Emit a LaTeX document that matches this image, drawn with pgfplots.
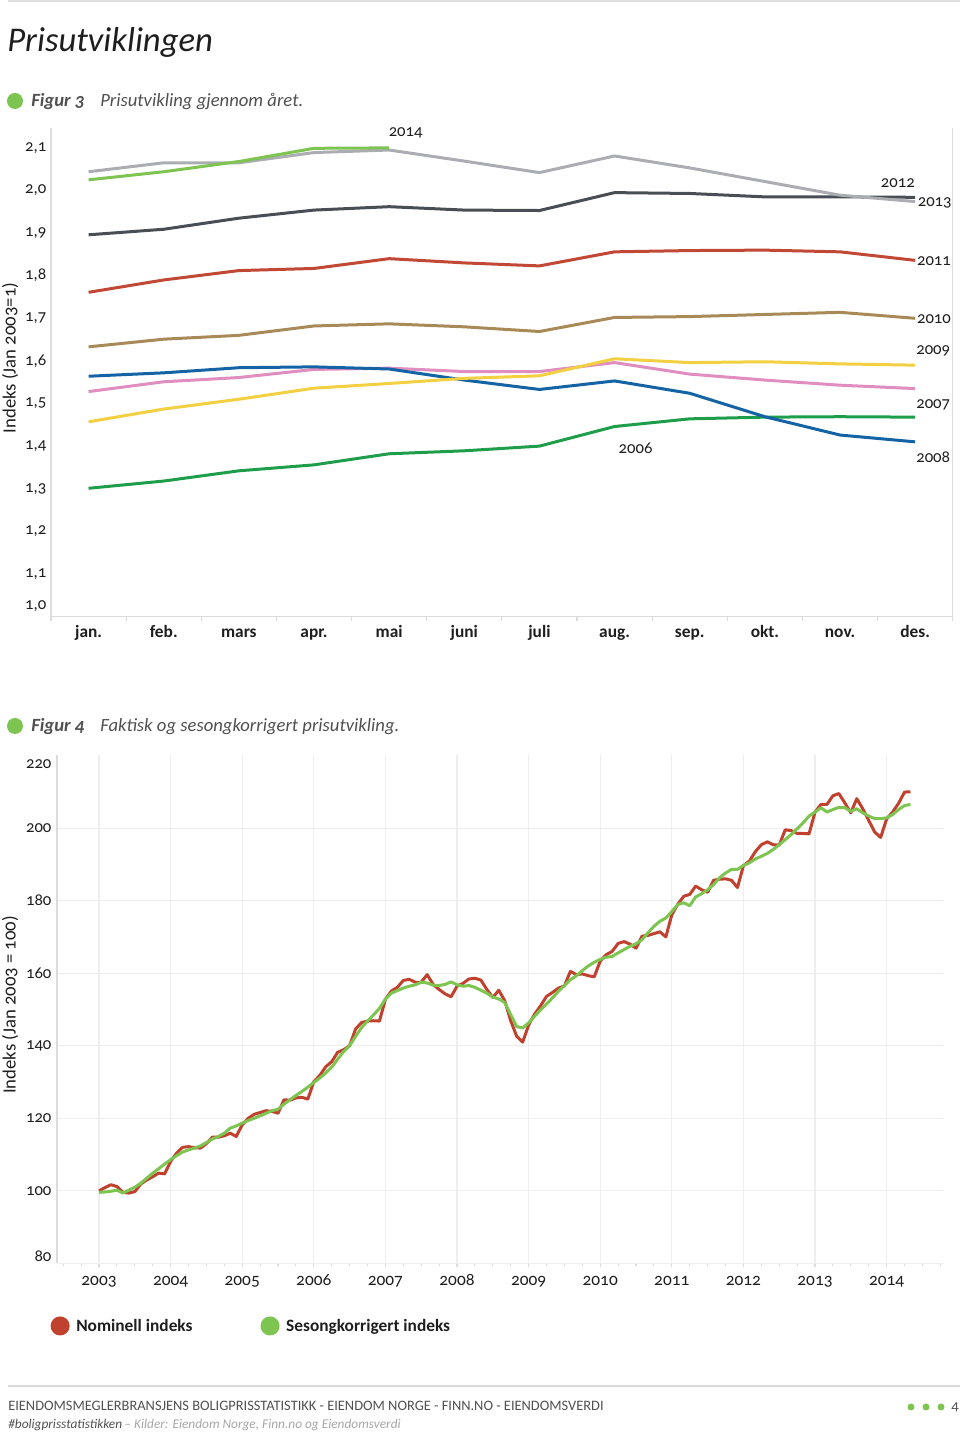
\documentclass[border=0pt]{standalone}
\usepackage{fontspec}
\setmainfont{Carlito}[Numbers=OldStyle]
\usepackage{pgfplots}
\pgfplotsset{compat=1.18}
\usepackage{pgfplotstable}

\definecolor{c06}{RGB}{30,158,74}
\definecolor{c07}{RGB}{224,142,192}
\definecolor{c08}{RGB}{20,100,165}
\definecolor{c09}{RGB}{242,208,66}
\definecolor{c10}{RGB}{168,138,88}
\definecolor{c11}{RGB}{192,72,52}
\definecolor{c12}{RGB}{72,78,84}
\definecolor{c13}{RGB}{170,173,177}
\definecolor{c14}{RGB}{125,196,80}
\definecolor{nom}{RGB}{192,66,46}
\definecolor{sa}{RGB}{125,196,80}
\definecolor{txt}{RGB}{30,30,30}
\definecolor{sub}{RGB}{80,80,80}
\definecolor{axisgray}{RGB}{220,220,220}
\definecolor{gridgray}{RGB}{238,238,238}

\pgfplotstableread{
m nom sa
0 100.0 99.6
1 100.9 99.7
2 101.7 99.9
3 101.2 100.2
4 99.6 99.4
5 99.4 100.2
6 99.8 101.0
7 101.9 102.1
8 103.0 103.5
9 103.9 104.9
10 104.9 106.1
11 104.7 107.4
12 108.1 108.6
13 110.4 109.7
14 112.0 110.7
15 112.2 111.3
16 111.9 111.8
17 111.8 112.4
18 113.0 113.3
19 114.8 114.3
20 114.8 115.0
21 115.2 115.9
22 115.9 117.3
23 115.0 117.9
24 118.2 118.7
25 120.0 119.4
26 121.1 120.0
27 121.6 120.7
28 122.1 121.4
29 121.9 122.1
30 121.4 122.5
31 125.1 123.9
32 125.0 125.1
33 125.6 126.3
34 125.8 127.4
35 125.3 128.6
36 130.1 129.9
37 131.8 131.1
38 134.2 132.5
39 135.6 134.1
40 138.2 136.3
41 138.9 138.4
42 140.0 140.0
43 144.6 142.6
44 146.4 145.0
45 146.8 146.8
46 146.9 148.5
47 146.8 150.3
48 152.8 152.9
49 155.1 154.5
50 156.1 155.2
51 158.0 155.9
52 158.3 156.4
53 157.5 156.8
54 157.5 157.5
55 159.6 157.3
56 156.9 156.7
57 155.5 156.6
58 154.3 156.9
59 153.5 157.6
60 156.4 156.8
61 157.2 156.4
62 158.4 156.6
63 158.6 156.1
64 158.1 155.3
65 155.5 154.5
66 153.3 153.4
67 155.3 152.9
68 152.4 151.9
69 146.9 148.6
70 142.6 145.3
71 141.0 144.9
72 145.7 146.3
73 148.7 148.1
74 151.0 149.9
75 153.6 151.5
76 154.7 153.2
77 155.9 155.0
78 156.5 156.6
79 160.5 158.2
80 159.6 159.3
81 159.8 160.7
82 159.3 162.0
83 159.0 163.0
84 163.3 163.8
85 165.1 164.4
86 166.0 164.6
87 168.2 165.6
88 168.7 166.5
89 168.0 167.4
90 166.9 168.1
91 170.2 169.2
92 170.4 171.1
93 170.9 172.9
94 171.4 174.3
95 170.0 175.2
96 176.1 177.0
97 179.0 178.9
98 181.2 179.4
99 181.7 178.6
100 184.0 181.0
101 183.0 181.9
102 182.3 183.0
103 185.6 184.4
104 185.9 186.3
105 186.0 187.6
106 185.6 188.6
107 183.6 188.6
108 189.6 189.7
109 190.9 190.4
110 193.5 191.5
111 195.4 192.2
112 196.2 193.0
113 195.4 194.1
114 195.3 195.4
115 199.5 196.8
116 199.3 198.2
117 198.5 199.8
118 198.5 201.4
119 198.4 203.3
120 204.4 204.4
121 206.5 205.6
122 206.5 204.4
123 208.9 205.1
124 209.5 205.7
125 206.9 205.6
126 204.2 204.6
127 208.1 205.3
128 205.3 204.2
129 202.1 203.3
130 198.9 202.6
131 197.4 202.6
132 202.5 202.8
133 204.4 203.7
134 206.8 205.1
135 209.9 206.2
136 210.0 206.5
}\bottomdata

\begin{document}
\begin{tikzpicture}
\path[use as bounding box] (0pt,0pt) rectangle (720pt,1077pt);

\begin{scope}[x=0.75pt,y=-0.75pt,yshift=1077pt]
  \draw[gray!25,line width=1.5pt] (8,1.5) -- (960,1.5);
  \node[anchor=base west,inner sep=0pt,font=\itshape\fontsize{26}{30}\selectfont,text=txt] at (7,52) {Prisutviklingen};
  \fill[c14] (15,101) circle (8);
  \node[anchor=base west,inner sep=0pt,font=\bfseries\itshape\fontsize{14}{16}\selectfont,text=sub] at (31,107) {Figur 3};
  \node[anchor=base west,inner sep=0pt,font=\itshape\fontsize{14}{16}\selectfont,text=sub] at (100,107) {Prisutvikling gjennom året.};
  \node[rotate=90,font=\fontsize{14}{16}\selectfont,text=txt] at (10,358) {Indeks (Jan 2003=1)};
  \fill[c14] (15,726) circle (8);
  \node[anchor=base west,inner sep=0pt,font=\bfseries\itshape\fontsize{14}{16}\selectfont,text=sub] at (31,732) {Figur 4};
  \node[anchor=base west,inner sep=0pt,font=\itshape\fontsize{14}{16}\selectfont,text=sub] at (100,732) {Faktisk og sesongkorrigert prisutvikling.};
  \node[rotate=90,font=\fontsize{14}{16}\selectfont,text=txt] at (10,1005) {Indeks (Jan 2003 = 100)};
  \draw[gray!30,line width=1.5pt] (8,1386) -- (960,1386);
  \node[anchor=west,inner sep=0pt,font=\fontsize{10.8}{12}\selectfont,text=sub] at (8,1406) {EIENDOMSMEGLERBRANSJENS BOLIGPRISSTATISTIKK - EIENDOM NORGE - FINN.NO - EIENDOMSVERDI};
  \node[anchor=west,inner sep=0pt,font=\itshape\fontsize{10}{12}\selectfont,text=sub] at (8,1425) {\#boligprisstatistikken\textcolor{gray!70}{ \,– Kilder: Eiendom Norge, Finn.no og Eiendomsverdi}};
  \fill[c14] (911,1407) circle (3.5);
  \fill[c14] (926,1407) circle (3.5);
  \fill[c14] (941,1407) circle (3.5);
  \node[inner sep=0pt,font=\fontsize{11}{12}\selectfont,text=sub] at (955,1407) {4};
\end{scope}

% ---------------- Figure 3 ----------------
\begin{axis}[
  at={(38.25pt,614.6pt)}, anchor=south west, scale only axis,
  width=676.3pt, height=366.4pt,
  xmin=-0.5, xmax=11.5, ymin=1, ymax=2.1467,
  axis x line*=bottom, axis y line*=left,
  axis line style={axisgray, line width=1pt},
  tick align=outside,
  xtick={0,1,2,3,4,5,6,7,8,9,10,11},
  xticklabels={jan.,feb.,mars,apr.,mai,juni,juli,aug.,sep.,okt.,nov.,des.},
  minor xtick={-0.5,0.5,1.5,2.5,3.5,4.5,5.5,6.5,7.5,8.5,9.5,10.5,11.5},
  major tick length=0pt, minor tick length=3pt,
  minor tick style={axisgray, line width=0.8pt},
  ytick={1.1,1.2,1.3,1.4,1.5,1.6,1.7,1.8,1.9,2.0,2.1},
  extra y ticks={1.0},
  extra y tick style={yticklabel style={anchor=south east}},
  xticklabel style={font=\bfseries\fontsize{13}{15}\selectfont, text=txt, text height=9pt, text depth=3pt, yshift=-3.5pt},
  yticklabel style={font=\fontsize{12.5}{14}\selectfont, text=txt,
    /pgf/number format/fixed, /pgf/number format/fixed zerofill,
    /pgf/number format/precision=1, /pgf/number format/use comma,
    /pgf/number format/assume math mode=true},
  clip=false,
  every axis plot/.append style={line width=2.25pt, line join=round},
]
\draw[axisgray,line width=1pt] (rel axis cs:1,0) -- (rel axis cs:1,1);
\addplot[c06] coordinates {(0,1.301) (1,1.318) (2,1.342) (3,1.356) (4,1.382) (5,1.389) (6,1.400) (7,1.446) (8,1.464) (9,1.468) (10,1.469) (11,1.468)};
\addplot[c07] coordinates {(0,1.528) (1,1.551) (2,1.561) (3,1.580) (4,1.583) (5,1.575) (6,1.575) (7,1.596) (8,1.569) (9,1.555) (10,1.543) (11,1.535)};
\addplot[c08] coordinates {(0,1.564) (1,1.572) (2,1.584) (3,1.586) (4,1.581) (5,1.555) (6,1.533) (7,1.553) (8,1.524) (9,1.469) (10,1.426) (11,1.410)};
\addplot[c09] coordinates {(0,1.457) (1,1.487) (2,1.510) (3,1.536) (4,1.547) (5,1.559) (6,1.565) (7,1.605) (8,1.596) (9,1.598) (10,1.593) (11,1.590)};
\addplot[c10] coordinates {(0,1.633) (1,1.651) (2,1.660) (3,1.682) (4,1.687) (5,1.680) (6,1.669) (7,1.702) (8,1.704) (9,1.709) (10,1.714) (11,1.700)};
\addplot[c11] coordinates {(0,1.761) (1,1.790) (2,1.812) (3,1.817) (4,1.840) (5,1.830) (6,1.823) (7,1.856) (8,1.859) (9,1.860) (10,1.856) (11,1.836)};
\addplot[c12] coordinates {(0,1.896) (1,1.909) (2,1.935) (3,1.954) (4,1.962) (5,1.954) (6,1.953) (7,1.995) (8,1.993) (9,1.985) (10,1.985) (11,1.984)};
\addplot[c13] coordinates {(0,2.044) (1,2.065) (2,2.065) (3,2.089) (4,2.095) (5,2.069) (6,2.042) (7,2.081) (8,2.053) (9,2.021) (10,1.989) (11,1.974)};
\addplot[c14] coordinates {(0,2.025) (1,2.044) (2,2.068) (3,2.099) (4,2.100)};
\begin{scope}[every node/.style={font=\fontsize{12.5}{14}\selectfont, text=txt, inner sep=0pt}]
\node at (axis cs:4.22,2.135) {2014};
\node at (axis cs:10.77,2.018) {2012};
\node at (axis cs:11.26,1.971) {2013};
\node at (axis cs:11.25,1.834) {2011};
\node at (axis cs:11.25,1.698) {2010};
\node at (axis cs:11.24,1.623) {2009};
\node at (axis cs:11.24,1.496) {2007};
\node at (axis cs:7.28,1.395) {2006};
\node at (axis cs:11.24,1.374) {2008};
\end{scope}
\end{axis}

% ---------------- Figure 4 ----------------
\begin{axis}[
  at={(42.75pt,129.4pt)}, anchor=south west, scale only axis,
  width=664.5pt, height=381pt,
  xmin=-7.04, xmax=141.45, ymin=80, ymax=220,
  axis x line*=bottom, axis y line*=left,
  axis line style={axisgray, line width=1pt},
  xtick={0,12,24,36,48,60,72,84,96,108,120,132},
  xticklabels={2003,2004,2005,2006,2007,2008,2009,2010,2011,2012,2013,2014},
  minor xtick={-6,-3,...,141},
  tick align=outside, major tick length=3pt, minor tick length=2pt,
  tick style={axisgray, line width=0.8pt},
  ytick={100,120,140,160,180,200},
  ytick style={draw=none},
  extra y ticks={80},
  extra y tick style={yticklabel style={anchor=south east}},
  grid=major, major grid style={gridgray, line width=0.8pt},
  xticklabel style={font=\fontsize{13}{15}\selectfont, text=txt, text height=9pt, text depth=3pt, yshift=-1pt},
  yticklabel style={font=\fontsize{12.5}{14}\selectfont, text=txt, inner sep=1pt, /pgf/number format/assume math mode=true},
  legend style={draw=none, fill=none, at={(axis description cs:-0.012,-0.123)}, anchor=west,
    font=\bfseries\fontsize{13}{15}\selectfont, text=txt,
    /tikz/every even column/.append style={column sep=49pt},
    /tikz/every odd column/.append style={column sep=3pt}},
  legend columns=2,
  legend image code/.code={\fill[#1] (4pt,0pt) circle (6pt);},
  every axis plot/.append style={line width=2.25pt, line join=round},
]
\addplot[nom] table[x=m,y=nom]{\bottomdata};
\addlegendentry{Nominell indeks}
\addplot[sa] table[x=m,y=sa]{\bottomdata};
\addlegendentry{Sesongkorrigert indeks}
\end{axis}

% overlay for the 220 label
\begin{axis}[
  at={(42.75pt,129.4pt)}, anchor=south west, scale only axis,
  width=664.5pt, height=381pt,
  xmin=-7.04, xmax=141.45, ymin=80, ymax=220,
  axis line style={draw=none}, xtick=\empty, ytick={220},
  major tick length=0pt, ytick style={draw=none},
  yticklabel style={anchor=north east, xshift=-3pt, yshift=-2pt, font=\fontsize{12.5}{14}\selectfont, text=txt, inner sep=1pt, /pgf/number format/assume math mode=true},
]
\end{axis}
\end{tikzpicture}
\end{document}
